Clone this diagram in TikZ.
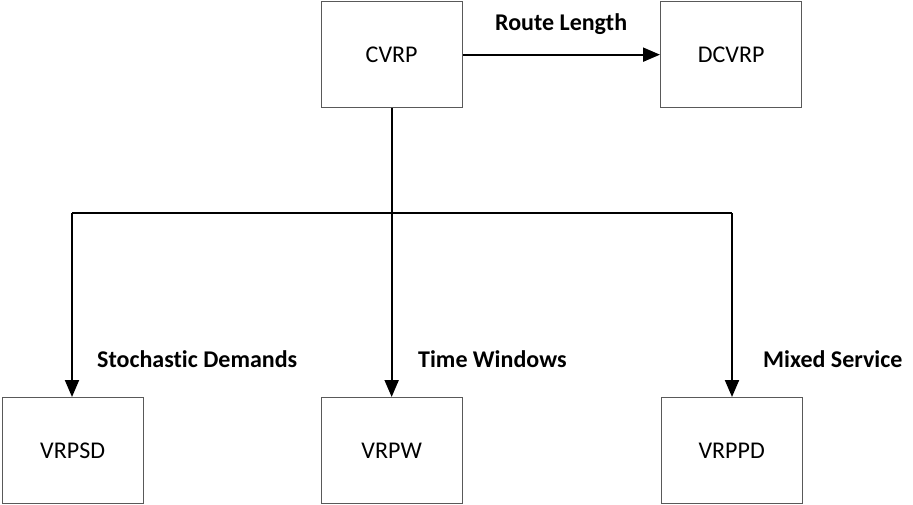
\documentclass[tikz,border=0pt]{standalone}
\usepackage{fontspec}
\setmainfont[Ligatures={NoCommon}]{Carlito}
\usetikzlibrary{arrows.meta}
\begin{document}
\begin{tikzpicture}[x=1pt,y=-1pt,
  box/.style={draw=black!65,line width=1.3pt,minimum width=141pt,minimum height=106pt,inner sep=0pt,font=\fontsize{24}{28}\selectfont,anchor=north west},
  conn/.style={draw=black,line width=2pt},
  arr/.style={conn,-{Triangle[length=17pt,width=14pt]}},
  lab/.style={font=\fontsize{24}{28}\selectfont\bfseries,anchor=west,inner sep=0pt}]
\useasboundingbox (0,0) rectangle (913,504);
\node[box] (cvrp) at (320.5,1) {CVRP};
\node[box] (dcvrp) at (660,1) {DCVRP};
\node[box] (vrpsd) at (1.5,397) {VRPSD};
\node[box] (vrpw) at (320.5,397) {VRPW};
\node[box] (vrppd) at (660.5,397) {VRPPD};
\coordinate (hl) at (72,213);
\coordinate (hr) at (732,213);
\draw[arr] (cvrp.east) -- (dcvrp.west);
\draw[arr] (cvrp.south) -- (vrpw.north);
\draw[conn] (hl) -- (hr);
\draw[arr] (hl) -- (hl |- vrpsd.north);
\draw[arr] (hr) -- (hr |- vrppd.north);
\node[lab] (l1) at (495,24) {Route Length};
\node[lab] (l2) at (97,359) {Stochastic Demands};
\node[lab] (l3) at (418,359) {Time Windows};
\node[lab] (l4) at (763,359) {Mixed Service};
\end{tikzpicture}
\end{document}
